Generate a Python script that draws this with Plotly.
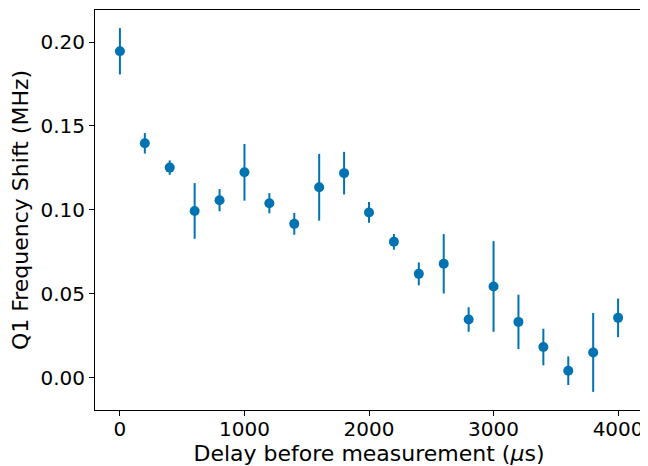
import plotly.graph_objects as go

delay_us = [0, 200, 400, 600, 800, 1000, 1200, 1400, 1600, 1800, 2000,
            2200, 2400, 2600, 2800, 3000, 3200, 3400, 3600, 3800, 4000]
shift_mhz = [0.1945, 0.1397, 0.1252, 0.0994, 0.1058, 0.1224, 0.1040, 0.0917,
             0.1135, 0.1219, 0.0985, 0.0810, 0.0619, 0.0679, 0.0347, 0.0544,
             0.0333, 0.0183, 0.0042, 0.0151, 0.0357]
shift_err = [0.0138, 0.0061, 0.0043, 0.0166, 0.0066, 0.0169, 0.0060, 0.0065,
             0.0199, 0.0127, 0.0062, 0.0047, 0.0068, 0.0177, 0.0073, 0.0270,
             0.0162, 0.0109, 0.0085, 0.0235, 0.0115]

x_ticks = [0, 1000, 2000, 3000, 4000]
y_ticks = [0.00, 0.05, 0.10, 0.15, 0.20]

color = "#0173b2"

fig = go.Figure()
fig.add_trace(go.Scatter(
    x=delay_us, y=shift_mhz, mode="markers",
    marker=dict(color=color, size=10),
    error_y=dict(type="data", array=shift_err, visible=True,
                 color=color, thickness=2, width=0),
    showlegend=False,
))

tick_font = dict(family="DejaVu Sans", size=20, color="black")
title_font = dict(family="DejaVu Sans", size=22, color="black")
fig.update_layout(
    width=640, height=458,
    margin=dict(l=87, r=5, t=2, b=56, autoexpand=False),
    paper_bgcolor="white", plot_bgcolor="white",
    font=tick_font,
)
fig.update_xaxes(
    range=[-200, 4200], tickvals=x_ticks, ticktext=[str(v) for v in x_ticks],
    tickfont=tick_font, ticklabelstandoff=-4,
    showgrid=False, zeroline=False, showline=True, linecolor="black",
    linewidth=1, mirror=True, ticks="outside", ticklen=5, tickcolor="black",
    title=dict(text="Delay before measurement (<i>μ</i>s)", font=title_font, standoff=6),
    automargin=False,
)
fig.update_yaxes(
    range=[-0.0192, 0.2191], tickvals=y_ticks,
    ticktext=[f"{v:.2f}" for v in y_ticks],
    tickfont=tick_font,
    showgrid=False, zeroline=False, showline=True, linecolor="black",
    linewidth=1, mirror=True, ticks="outside", ticklen=5, tickcolor="black",
    title=dict(text="Q1 Frequency Shift (MHz)", font=title_font, standoff=6),
    automargin=False,
)

fig.write_html("out.html")
